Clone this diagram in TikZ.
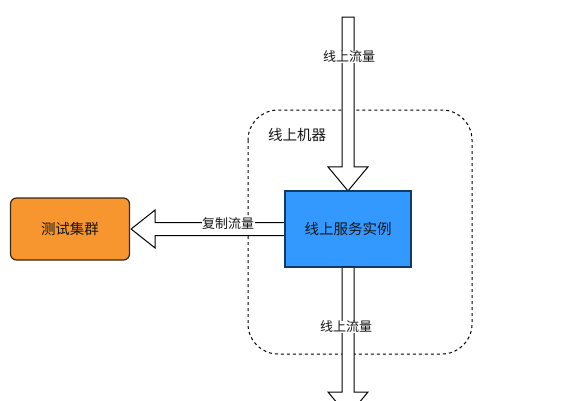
\documentclass[tikz,border=0pt]{standalone}
\usepackage{fontspec}
\setmainfont{Noto Sans CJK SC}
\usetikzlibrary{calc}
\definecolor{svcblue}{HTML}{3399FF}
\definecolor{svcedge}{HTML}{123A66}
\definecolor{testorange}{HTML}{F7962F}
\definecolor{testedge}{HTML}{3A2A12}
\tikzset{
  boxtext/.style={font=\fontsize{14.5}{16}\selectfont, text=black!92},
  lbl/.style={font=\fontsize{13}{15}\selectfont, text=black!92, fill=white, inner sep=0.5pt},
  flexarrow/.style={draw=black, fill=white, line width=1pt, line join=miter},
}
\begin{document}
\begin{tikzpicture}[x=1pt,y=-1pt]
\clip (0,0) rectangle (568,400);
\fill[white] (0,0) rectangle (568,400);
% dashed machine boundary
\draw[dashed, dash pattern=on 3pt off 3pt, line width=1pt, rounded corners=30pt] (248,110) rectangle (472,354);
\node[boxtext, anchor=center] (mach) at (297,135) {线上机器};
% nodes
\node[draw=svcedge, fill=svcblue, line width=1.2pt, minimum width=126pt, minimum height=75pt, inner sep=0pt, boxtext] (svc) at (348,229) {线上服务实例};
\node[draw=testedge, fill=testorange, line width=1.2pt, rounded corners=6pt, minimum width=119pt, minimum height=62pt, inner sep=0pt, boxtext] (test) at (70,229) {测试集群};
\coordinate (src) at (348,17);
\coordinate (sink) at (348,416);
% top arrow: src -> svc
\draw[flexarrow] ($(src)+(-6,0)$) -- ($(src)+(6,0)$) -- ($(svc.north)+(6,-24)$) -- ($(svc.north)+(20,-24)$) -- (svc.north) -- ($(svc.north)+(-20,-24)$) -- ($(svc.north)+(-6,-24)$) -- cycle;
% bottom arrow: svc -> sink
\draw[flexarrow] ($(svc.south)+(-6,0)$) -- ($(svc.south)+(6,0)$) -- ($(sink)+(6,-24)$) -- ($(sink)+(20,-24)$) -- (sink) -- ($(sink)+(-20,-24)$) -- ($(sink)+(-6,-24)$) -- cycle;
% left arrow: svc -> test
\draw[flexarrow] ($(svc.west)+(0,-6.5)$) -- ($(test.east)+(25,-6.5)$) -- ($(test.east)+(25,-19)$) -- ($(test.east)+(1,0)$) -- ($(test.east)+(25,19)$) -- ($(test.east)+(25,6.5)$) -- ($(svc.west)+(0,6.5)$);
% redraw box borders on top
\draw[svcedge, line width=1.2pt] (svc.south west) rectangle (svc.north east);
% labels
\node[lbl] (l1) at (349,57) {线上流量};
\node[lbl] (l2) at (346,327) {线上流量};
\node[lbl] (l3) at (228,224) {复制流量};
\end{tikzpicture}
\end{document}
